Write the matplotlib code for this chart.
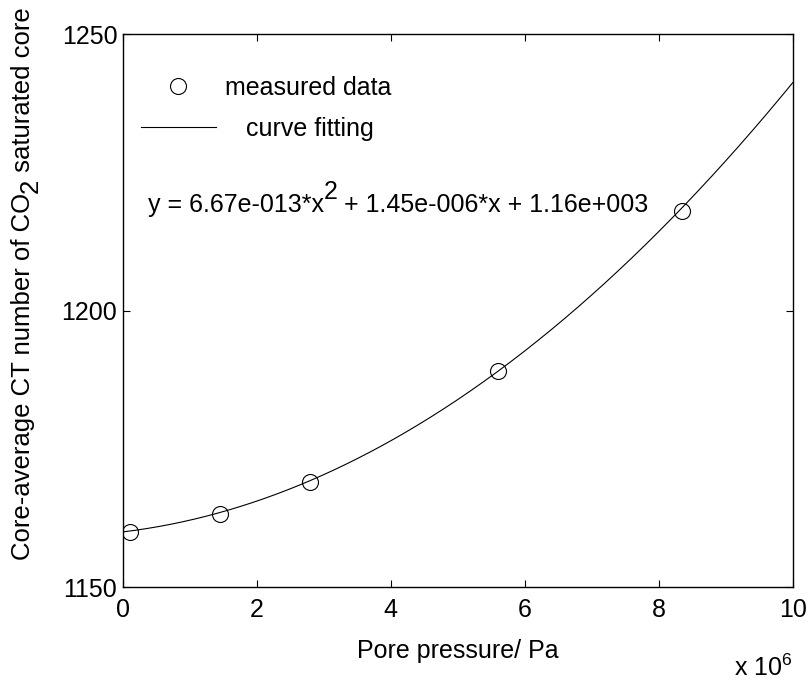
import numpy as np
import matplotlib
matplotlib.use("Agg")
import matplotlib.pyplot as plt

plt.rcParams['font.family'] = ['Liberation Sans', 'DejaVu Sans']
plt.rcParams['mathtext.fontset'] = 'custom'
plt.rcParams['mathtext.rm'] = 'Liberation Sans'
plt.rcParams['mathtext.it'] = 'Liberation Sans'

# measured data (pore pressure in Pa, core-average CT number)
pressure = [0.1e6, 1.45e6, 2.8e6, 5.6e6, 8.35e6]
ct_number = [1159.9, 1163.3, 1169.1, 1189.0, 1218.0]

# quadratic fit coefficients shown on the chart
fit_coef = [6.67e-13, 1.45e-6, 1.16e3]

x_fit = np.linspace(0, 10e6, 400)
y_fit = np.polyval(fit_coef, x_fit)

fs = 18

fig = plt.figure(figsize=(8.08, 6.82), dpi=100)
ax = fig.add_axes([0.152, 0.139, 0.829, 0.811])

ax.plot(np.array(pressure) / 1e6, ct_number, 'o', color='black', mfc='none',
        markersize=11.5, markeredgewidth=0.8, label='measured data')
ax.plot(x_fit / 1e6, y_fit, '-', color='black', linewidth=0.8, label='   curve fitting')

ax.set_xlim(0, 10)
ax.set_ylim(1150, 1250)
ax.set_xticks([0, 2, 4, 6, 8, 10])
ax.set_yticks([1150, 1200, 1250])
ax.tick_params(direction='in', top=True, right=True, length=5, width=0.8, labelsize=fs)
ax.tick_params(axis='x', pad=8)
ax.tick_params(axis='y', pad=4)
for s in ax.spines.values():
    s.set_linewidth(1.0)

ax.set_xlabel('Pore pressure/ Pa', fontsize=fs, labelpad=12)
ax.text(1.0, -0.145, 'x 10$^6$', transform=ax.transAxes, ha='right', va='center', fontsize=fs)

# equation with a full-size superscript
t1 = ax.text(0.37, 1217.8, 'y = 6.67e-013*x', fontsize=fs, va='baseline')
t2 = ax.annotate('2', xy=(1, 0.55), xycoords=t1, va='bottom', ha='left', fontsize=fs)
ax.annotate(' + 1.45e-006*x + 1.16e+003', xy=(1, 0), xycoords=(t2, t1),
            va='bottom', ha='left', fontsize=fs)

# rotated y label with a full-size subscript
y1 = fig.text(0.014, 1 - 560 / 682, 'Core-average CT number of CO', rotation=90,
              fontsize=18.5, ha='left', va='bottom')
y2 = ax.annotate('2', xy=(0.3, 1), xycoords=y1, rotation=90, fontsize=18.5,
                 ha='left', va='bottom', annotation_clip=False)
ax.annotate(' saturated core', xy=(0, 1), xycoords=(y1, y2), rotation=90,
            fontsize=18.5, ha='left', va='bottom', annotation_clip=False)

ax.legend(loc='upper left', bbox_to_anchor=(18 / 670, 0.924), frameon=False, fontsize=fs,
          handlelength=3.0, handletextpad=0.36, labelspacing=0.66,
          borderaxespad=0, borderpad=0)

fig.savefig('out.png', dpi=100)
